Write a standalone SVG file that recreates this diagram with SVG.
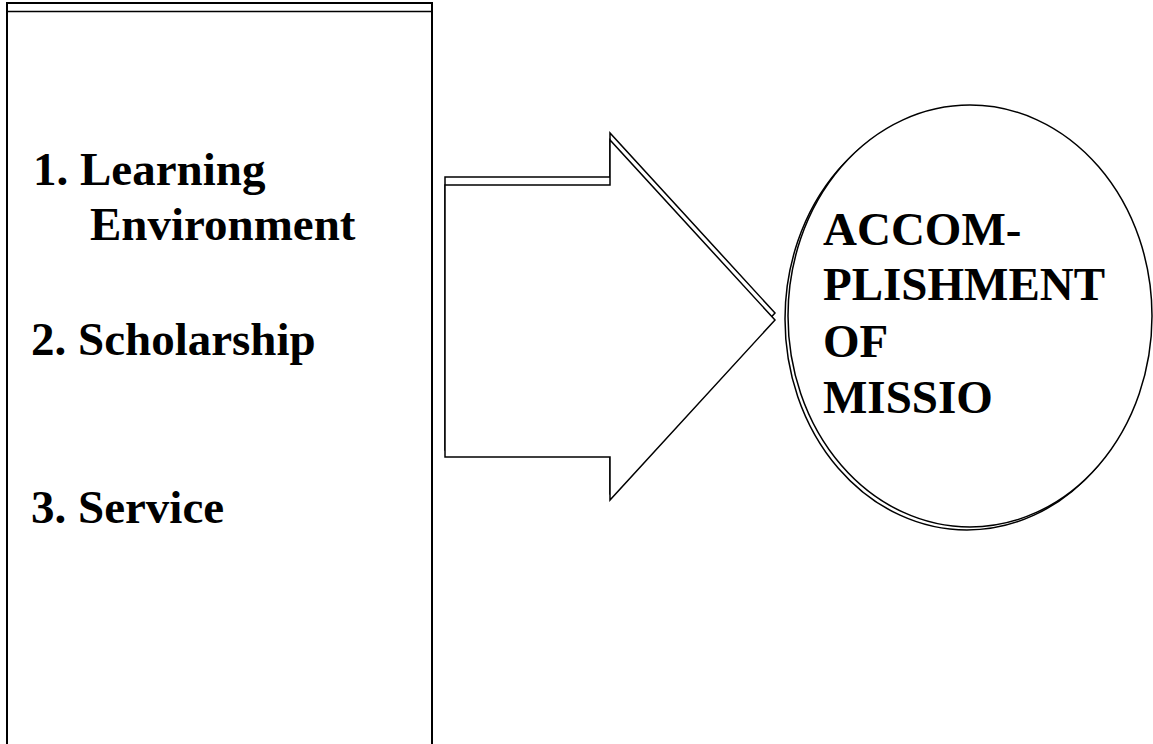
<svg xmlns="http://www.w3.org/2000/svg" width="1153" height="744" viewBox="0 0 1153 744">
<style>
.s{fill:#fff;stroke:#000;stroke-width:1.5}
.t{font-family:"Liberation Serif","Times New Roman",serif;font-weight:bold;font-size:47px;fill:#000}
</style>
<rect width="1153" height="744" fill="#fff"/>
<g id="box">
<rect x="7" y="3" width="425" height="800" fill="#fff" stroke="#000" stroke-width="2"/>
<line x1="7" y1="11.5" x2="432" y2="11.5" stroke="#000" stroke-width="1.5"/>
<text class="t" x="33" y="185">1. Learning</text>
<text class="t" x="90" y="240">Environment</text>
<text class="t" x="31" y="355">2. Scholarship</text>
<text class="t" x="31" y="523">3. Service</text>
</g>
<g id="connectors">
<polygon class="s" points="445,177 610,177 610,133 775,313 610,493 610,450 445,450"/>
<polygon class="s" points="445,185 610,185 610,140 775,320 610,500 610,457 445,457"/>
</g>
<g id="goal">
<ellipse class="s" cx="967" cy="319" rx="182" ry="211"/>
<ellipse class="s" cx="970" cy="316" rx="182" ry="211"/>
<text class="t" x="823" y="245">ACCOM-</text>
<text class="t" x="823" y="300">PLISHMENT</text>
<text class="t" x="823" y="357">OF</text>
<text class="t" x="823" y="413">MISSIO</text>
</g>
</svg>
